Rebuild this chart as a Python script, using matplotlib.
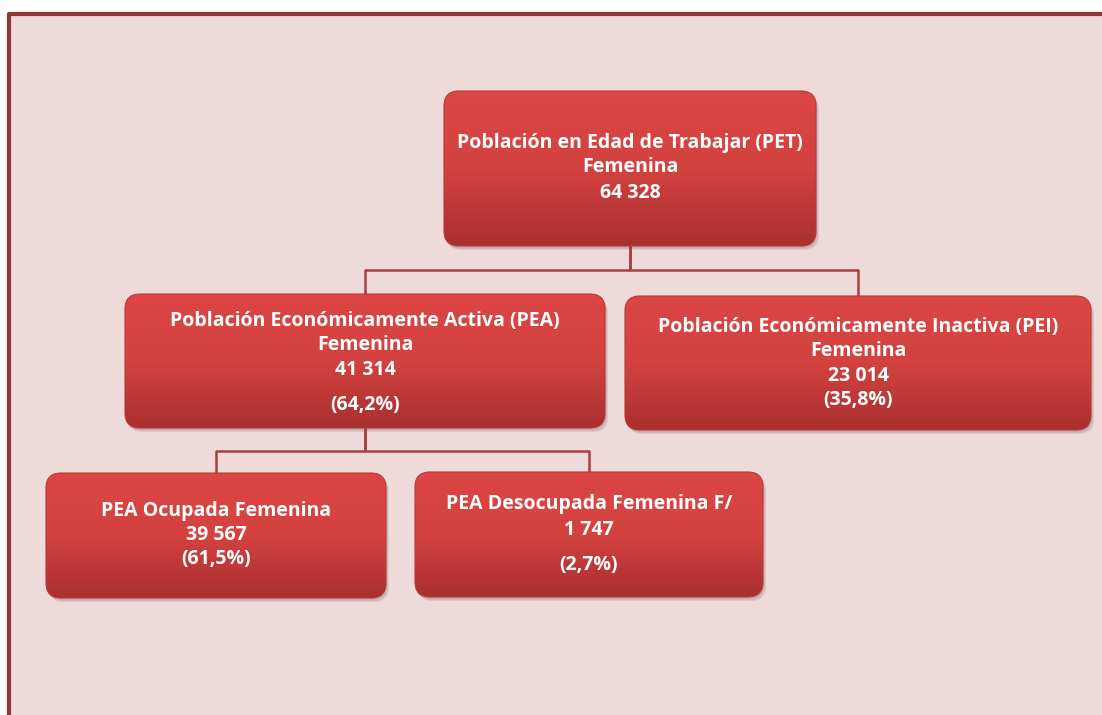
import numpy as np
import matplotlib.pyplot as plt
from matplotlib.patches import FancyBboxPatch, Rectangle
from matplotlib.colors import LinearSegmentedColormap

# data
titles = ['Población en Edad de Trabajar (PET)\nFemenina',
          'Población Económicamente Activa (PEA)\nFemenina',
          'Población Económicamente Inactiva (PEI)\nFemenina',
          'PEA Ocupada Femenina',
          'PEA Desocupada Femenina F/']
values = ['64 328', '41 314', '23 014', '39 567', '1 747']
shares = ['', '(64,2%)', '(35,8%)', '(61,5%)', '(2,7%)']
parents = [None, 0, 0, 1, 1]

# layout, in pixels of the 1102x715 picture: x0, y0, x1, y1
boxes = [(444, 91, 816, 246),
         (125, 294, 605, 428),
         (625, 296, 1091, 430),
         (46, 473, 386, 598),
         (415, 472, 763, 597)]
# y of text lines in each box
line_y = [[143, 167, 193],
          [321, 345, 370, 405],
          [327, 351, 376, 400],
          [511, 535, 559],
          [504, 530, 565]]
elbow_y = {0: 270, 1: 451}

plt.rcParams['font.family'] = ['Open Sans', 'DejaVu Sans']

fig = plt.figure(figsize=(11.02, 7.15), dpi=100)
ax = fig.add_axes([0, 0, 1, 1])
ax.set_xlim(0, 1102)
ax.set_ylim(715, 0)
ax.axis('off')

# background panel with border on top and left
ax.add_patch(Rectangle((8, 13), 1102, 710, facecolor='#efdada', edgecolor='none', zorder=0))
ax.plot([8.5, 8.5, 1102], [720, 13.5, 13.5], color='#943634', lw=3, solid_capstyle='butt', zorder=1)

red = LinearSegmentedColormap.from_list('red', ['#dc4644', '#d3423f', '#a92f2f'])
grad = np.linspace(0, 1, 256).reshape(-1, 1)

# connectors
line_col = '#a5403e'
for i, p in enumerate(parents):
    if p is None:
        continue
    px = (boxes[p][0] + boxes[p][2]) / 2
    cx = (boxes[i][0] + boxes[i][2]) / 2
    ey = elbow_y[p]
    ax.plot([px, px, cx, cx], [boxes[p][3], ey, ey, boxes[i][1]],
            color=line_col, lw=1.8, zorder=2)

for i, (x0, y0, x1, y1) in enumerate(boxes):
    w, h = x1 - x0, y1 - y0
    # shadow
    for k, a in enumerate([0.10, 0.10, 0.12]):
        ax.add_patch(FancyBboxPatch((x0 + 1 + k, y0 + 2 + k), w, h,
                                    boxstyle='round,pad=0,rounding_size=15',
                                    facecolor='#5a4040', edgecolor='none', alpha=a, zorder=3))
    box = FancyBboxPatch((x0, y0), w, h, boxstyle='round,pad=0,rounding_size=15',
                         facecolor='none', edgecolor='#b83a38', lw=0.8, zorder=5)
    ax.add_patch(box)
    im = ax.imshow(grad, cmap=red, extent=(x0, x1, y1, y0), aspect='auto', zorder=4)
    im.set_clip_path(box)

    title_lines = titles[i].split('\n')
    lines = title_lines + [values[i]]
    if shares[i]:
        lines.append(shares[i])
    cx = (x0 + x1) / 2
    for txt, ty in zip(lines, line_y[i]):
        ax.text(cx, ty, txt, ha='center', va='center', color='white',
                fontsize=14, fontweight='bold', zorder=6)

ax.set_xlim(0, 1102)
ax.set_ylim(715, 0)
fig.savefig('out.png', dpi=100)
